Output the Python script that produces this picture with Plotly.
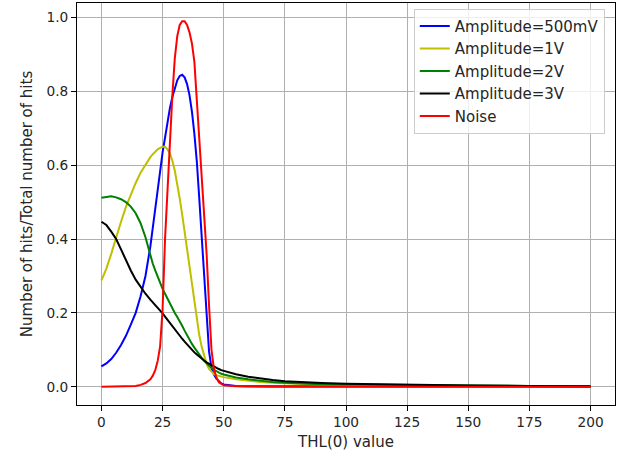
import plotly.graph_objects as go

# THL(0) threshold values at which the hit fraction was sampled
thl = [0, 2, 4, 6, 8, 10, 12, 14, 16, 18,
       20, 21, 22, 23, 24, 25, 26, 27, 28, 29,
       30, 31, 32, 33, 34, 35, 36, 37, 38, 39,
       40, 41, 42, 43, 44, 45, 46, 47, 48, 49, 50,
       55, 60, 65, 70, 75, 80, 90, 100, 125, 150, 175, 200]

amp_500mv = [0.055, 0.063, 0.075, 0.092, 0.113, 0.138, 0.168, 0.2, 0.245, 0.3,
             0.38, 0.432, 0.49, 0.54, 0.59, 0.635, 0.675, 0.717, 0.755, 0.785,
             0.81, 0.83, 0.842, 0.845, 0.838, 0.82, 0.79, 0.745, 0.685, 0.61,
             0.51, 0.4, 0.29, 0.185, 0.095, 0.052, 0.033, 0.022, 0.014, 0.009, 0.006,
             0.002, 0.001, 0.001, 0.001, 0.0005, 0.0005, 0.0003, 0.0003, 0.0002, 0.0001, 0.0001, 0.0001]

amp_1v = [0.288, 0.32, 0.36, 0.405, 0.447, 0.487, 0.522, 0.552, 0.58, 0.603,
          0.622, 0.63, 0.637, 0.643, 0.647, 0.65, 0.65, 0.643, 0.632, 0.612,
          0.585, 0.552, 0.51, 0.467, 0.42, 0.37, 0.32, 0.27, 0.22, 0.175,
          0.14, 0.108, 0.082, 0.062, 0.048, 0.04, 0.034, 0.031, 0.029, 0.027, 0.026,
          0.02, 0.016, 0.013, 0.011, 0.009, 0.008, 0.006, 0.005, 0.003, 0.002, 0.0015, 0.001]

amp_2v = [0.512, 0.515, 0.516, 0.513, 0.508, 0.5, 0.488, 0.47, 0.443, 0.405,
          0.355, 0.333, 0.315, 0.297, 0.28, 0.265, 0.252, 0.238, 0.225, 0.212,
          0.2, 0.189, 0.178, 0.165, 0.152, 0.139, 0.127, 0.116, 0.106, 0.096,
          0.087, 0.078, 0.07, 0.063, 0.057, 0.051, 0.046, 0.042, 0.038, 0.035, 0.033,
          0.025, 0.02, 0.016, 0.013, 0.011, 0.009, 0.007, 0.006, 0.004, 0.003, 0.002, 0.0015]

amp_3v = [0.447, 0.438, 0.42, 0.4, 0.372, 0.343, 0.315, 0.29, 0.27, 0.252,
          0.236, 0.229, 0.222, 0.215, 0.207, 0.199, 0.19, 0.181, 0.172, 0.163,
          0.155, 0.146, 0.138, 0.13, 0.122, 0.114, 0.107, 0.1, 0.093, 0.087,
          0.081, 0.076, 0.071, 0.066, 0.062, 0.058, 0.054, 0.051, 0.048, 0.045, 0.043,
          0.034, 0.027, 0.022, 0.018, 0.015, 0.013, 0.01, 0.008, 0.005, 0.003, 0.002, 0.0015]

noise = [0, 0, 0, 0, 0, 0.0005, 0.001, 0.002, 0.005, 0.01,
         0.02, 0.03, 0.045, 0.07, 0.11, 0.21, 0.4, 0.54, 0.67, 0.79,
         0.89, 0.95, 0.98, 0.99, 0.99, 0.98, 0.96, 0.93, 0.88, 0.78,
         0.65, 0.55, 0.46, 0.36, 0.22, 0.1, 0.048, 0.025, 0.012, 0.007, 0.004,
         0.001, 0, 0, 0, 0, 0, 0, 0, 0, 0, 0, 0]

series = [
    ("Amplitude=500mV", amp_500mv, "#0000ff"),
    ("Amplitude=1V", amp_1v, "#bfbf00"),
    ("Amplitude=2V", amp_2v, "#008000"),
    ("Amplitude=3V", amp_3v, "#000000"),
    ("Noise", noise, "#ff0000"),
]

x_ticks = [0, 25, 50, 75, 100, 125, 150, 175, 200]
y_ticks = [0.0, 0.2, 0.4, 0.6, 0.8, 1.0]

fig = go.Figure()
for i, (name, vals, color) in enumerate(series):
    fig.add_trace(go.Scatter(
        x=thl, y=vals, mode="lines", name=name,
        legendgroup=f"g{i}",
        line=dict(color=color, width=2),
    ))

font_family = "DejaVu Sans"
axis_common = dict(
    showline=True, linecolor="black", linewidth=1, mirror=True,
    ticks="outside", ticklen=5, tickwidth=1, tickcolor="black",
    showgrid=True, gridcolor="#b0b0b0", gridwidth=1,
    zeroline=False,
    tickfont=dict(family=font_family, size=13.7, color="#262626"),
)

fig.update_layout(
    width=617, height=455,
    margin=dict(l=77, r=2, t=3, b=50),
    paper_bgcolor="white", plot_bgcolor="white",
    font=dict(family=font_family, size=14, color="#262626"),
    xaxis=dict(
        range=[-10, 210], tickvals=x_ticks,
        title=dict(text="THL(0) value", font=dict(family=font_family, size=15), standoff=7),
        **axis_common,
    ),
    yaxis=dict(
        range=[-0.0495, 1.0395], tickvals=y_ticks, tickformat=".1f",
        title=dict(text="Number of hits/Total number of hits", font=dict(family=font_family, size=15), standoff=10),
        **axis_common,
    ),
    legend=dict(
        x=0.626, y=0.9855, xanchor="left", yanchor="top",
        bgcolor="rgba(255,255,255,0.8)", bordercolor="#cccccc", borderwidth=1,
        font=dict(family=font_family, size=15, color="#262626"),
        traceorder="grouped", tracegroupgap=0,
    ),
    showlegend=True,
)

fig.write_html("out.html")
